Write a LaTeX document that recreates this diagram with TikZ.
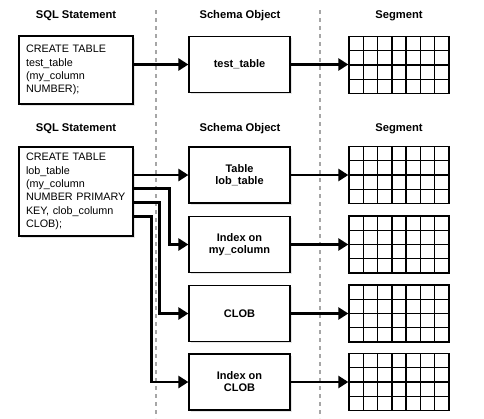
\documentclass[tikz,border=0pt]{standalone}
\usepackage{fontspec}
\setmainfont{Liberation Sans}
\usetikzlibrary{arrows.meta,shadows,calc}

\begin{document}
\begin{tikzpicture}[x=1pt,y=-1pt,
  head/.style={font=\fontsize{11.2}{12}\selectfont\bfseries},
  sqlbox/.style={draw,line width=1.2pt,fill=white,
    drop shadow={fill=black!20,shadow xshift=1.5pt,shadow yshift=-1.5pt},
    text width=100pt,inner xsep=7pt,align=left,
    font=\fontsize{10.8}{13.3}\selectfont},
  objbox/.style={draw,line width=1.2pt,fill=white,
    drop shadow={fill=black!20,shadow xshift=1.5pt,shadow yshift=-1.5pt},
    minimum width=101pt,minimum height=56pt,align=center,
    font=\fontsize{11}{12}\selectfont\bfseries},
  segbox/.style={draw,line width=1.3pt,minimum width=100pt,minimum height=57pt,
    path picture={
      \foreach \i in {1,...,6}
        \draw[line width=1.3pt]
          ($(path picture bounding box.north west)!\i/7!(path picture bounding box.north east)$) --
          ($(path picture bounding box.south west)!\i/7!(path picture bounding box.south east)$);
      \foreach \j in {1,2,3}
        \draw[line width=1.3pt]
          ($(path picture bounding box.north west)!\j/4!(path picture bounding box.south west)$) --
          ($(path picture bounding box.north east)!\j/4!(path picture bounding box.south east)$);
    }},
  sep/.style={draw=black!35,line width=2.2pt,dash pattern=on 4pt off 4pt},
  arr/.style={draw,line width=2.8pt,-{Triangle[length=10pt,width=12pt]}}
]
\useasboundingbox (0,0) rectangle (484,418);

% column separators
\path[sep] (156,10) -- (156,418);
\path[sep] (320,10) -- (320,418);

% first example
\node[head] (hsql1) at (76,16) {SQL Statement};
\node[head] (hobj1) at (240,16) {Schema Object};
\node[head] (hseg1) at (399,16) {Segment};

\node[sqlbox,minimum height=68pt] (sql1) at (76,70) {CREATE TABLE\\test\_table\\(my\_column\\NUMBER);};
\node[objbox] (obj1) at (239.5,64.5) {test\_table};
\node[segbox] (seg1) at (399,65) {};

\path[arr] (sql1.east |- obj1.west) -- (obj1.west);
\path[arr] (obj1.east) -- (seg1.west |- obj1.east);

% second example
\node[head] (hsql2) at (76,129) {SQL Statement};
\node[head] (hobj2) at (240,129) {Schema Object};
\node[head] (hseg2) at (399,129) {Segment};

\node[sqlbox,minimum height=89pt] (sql2) at (76,191.5) {CREATE TABLE\\lob\_table\\(my\_column\\NUMBER PRIMARY\\KEY, clob\_column\\CLOB);};
\node[objbox] (obj2) at (239.5,175) {Table\\lob\_table};
\node[objbox] (obj3) at (239.5,244.5) {Index on\\my\_column};
\node[objbox] (obj4) at (239.5,313.5) {CLOB};
\node[objbox] (obj5) at (239.5,382) {Index on\\CLOB};
\node[segbox] (seg2) at (399,175) {};
\node[segbox] (seg3) at (399,244.5) {};
\node[segbox] (seg4) at (399,313.5) {};
\node[segbox] (seg5) at (399,382) {};

\path[arr] (sql2.east |- obj2.west) -- (obj2.west);
\path[arr] ([yshift=-42pt]sql2.north east) -| ([xshift=-19pt]obj3.west) -- (obj3.west);
\path[arr] ([yshift=-56pt]sql2.north east) -| ([xshift=-29pt]obj4.west) -- (obj4.west);
\path[arr] ([yshift=-70pt]sql2.north east) -| ([xshift=-37pt]obj5.west) -- (obj5.west);

\path[arr] (obj2.east) -- (seg2.west);
\path[arr] (obj3.east) -- (seg3.west);
\path[arr] (obj4.east) -- (seg4.west);
\path[arr] (obj5.east) -- (seg5.west);
\end{tikzpicture}
\end{document}
